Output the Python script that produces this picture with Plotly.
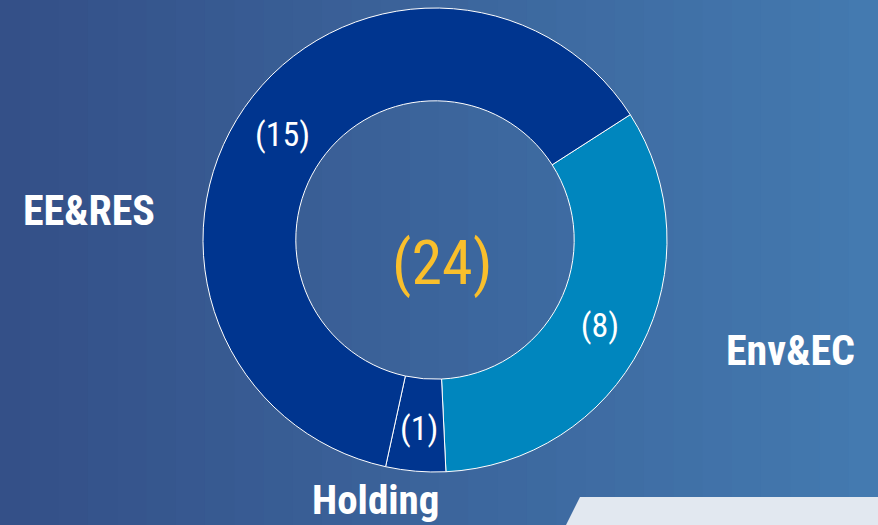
import math
import plotly.graph_objects as go

labels = ["Env&EC", "Holding", "EE&RES"]
values = [8, 1, 15]
slice_text = ["(8)", "(1)", "(15)"]
colors = ["#0086BE", "#00358F", "#00358F"]
total_text = "(24)"

W, H = 878, 525
FONT = "Liberation Sans Narrow, Roboto Condensed, DejaVu Sans Condensed, Arial Narrow, sans-serif"

CX, CY, R = 435, 240, 232
HOLE = 0.6
ROT = 57.3

fig = go.Figure()

fig.add_trace(go.Pie(
    labels=labels,
    values=values,
    text=slice_text,
    textinfo="text",
    textposition=["inside", "none", "inside"],
    insidetextorientation="horizontal",
    textfont=dict(family=FONT, size=34, color="white"),
    marker=dict(colors=colors, line=dict(color="white", width=1)),
    hole=HOLE,
    sort=False,
    direction="clockwise",
    rotation=ROT,
    showlegend=False,
    hoverinfo="label+value",
    domain=dict(x=[(CX - R) / W, (CX + R) / W], y=[(H - CY - R) / H, (H - CY + R) / H]),
))

# label for the narrow slice, placed at its mid angle (derived from the data)
total = sum(values)
before = sum(values[:1])
mid = math.radians(ROT + 360 * (before + values[1] / 2) / total)
rm = R * (1 + HOLE) / 2
hx = CX + rm * math.sin(mid)
hy = CY - rm * math.cos(mid) + 3

shapes = []
left = (52, 80, 136)
right = (68, 122, 176)
n = 30
for i in range(n):
    t = i / (n - 1)
    c = tuple(int(left[k] + (right[k] - left[k]) * t) for k in range(3))
    shapes.append(dict(type="rect", xref="paper", yref="paper", x0=i / n, x1=(i + 1) / n + 0.002,
                       y0=0, y1=1, fillcolor="rgb(%d,%d,%d)" % c, line=dict(width=0), layer="below"))
shapes.append(dict(type="path", xref="paper", yref="paper",
                   path="M %f,0 L %f,%f L 1,%f L 1,0 Z" % (566 / W, 580 / W, 28 / H, 28 / H),
                   fillcolor="#E2E8F0", line=dict(width=0), layer="above"))


def ann(text, x, y, size, color="white"):
    return dict(text=text, x=x / W, y=1 - y / H, xref="paper", yref="paper", showarrow=False,
                xanchor="center", yanchor="middle",
                font=dict(family=FONT, size=size, color=color))


annotations = [
    ann("<b>EE&RES</b>", 89, 210, 42),
    ann("<b>Env&EC</b>", 790, 350, 42),
    ann("<b>Holding</b>", 375, 500, 41),
    ann(total_text, 442, 262, 62, "#F9BF2C"),
    ann(slice_text[1], hx, hy, 34),
]

fig.update_layout(
    width=W, height=H,
    margin=dict(l=0, r=0, t=0, b=0),
    paper_bgcolor="#3d6396",
    plot_bgcolor="rgba(0,0,0,0)",
    shapes=shapes,
    annotations=annotations,
)

fig.write_html("out.html", config={"displayModeBar": False},
               post_script="document.body.style.margin='0';document.body.style.overflow='hidden';")
